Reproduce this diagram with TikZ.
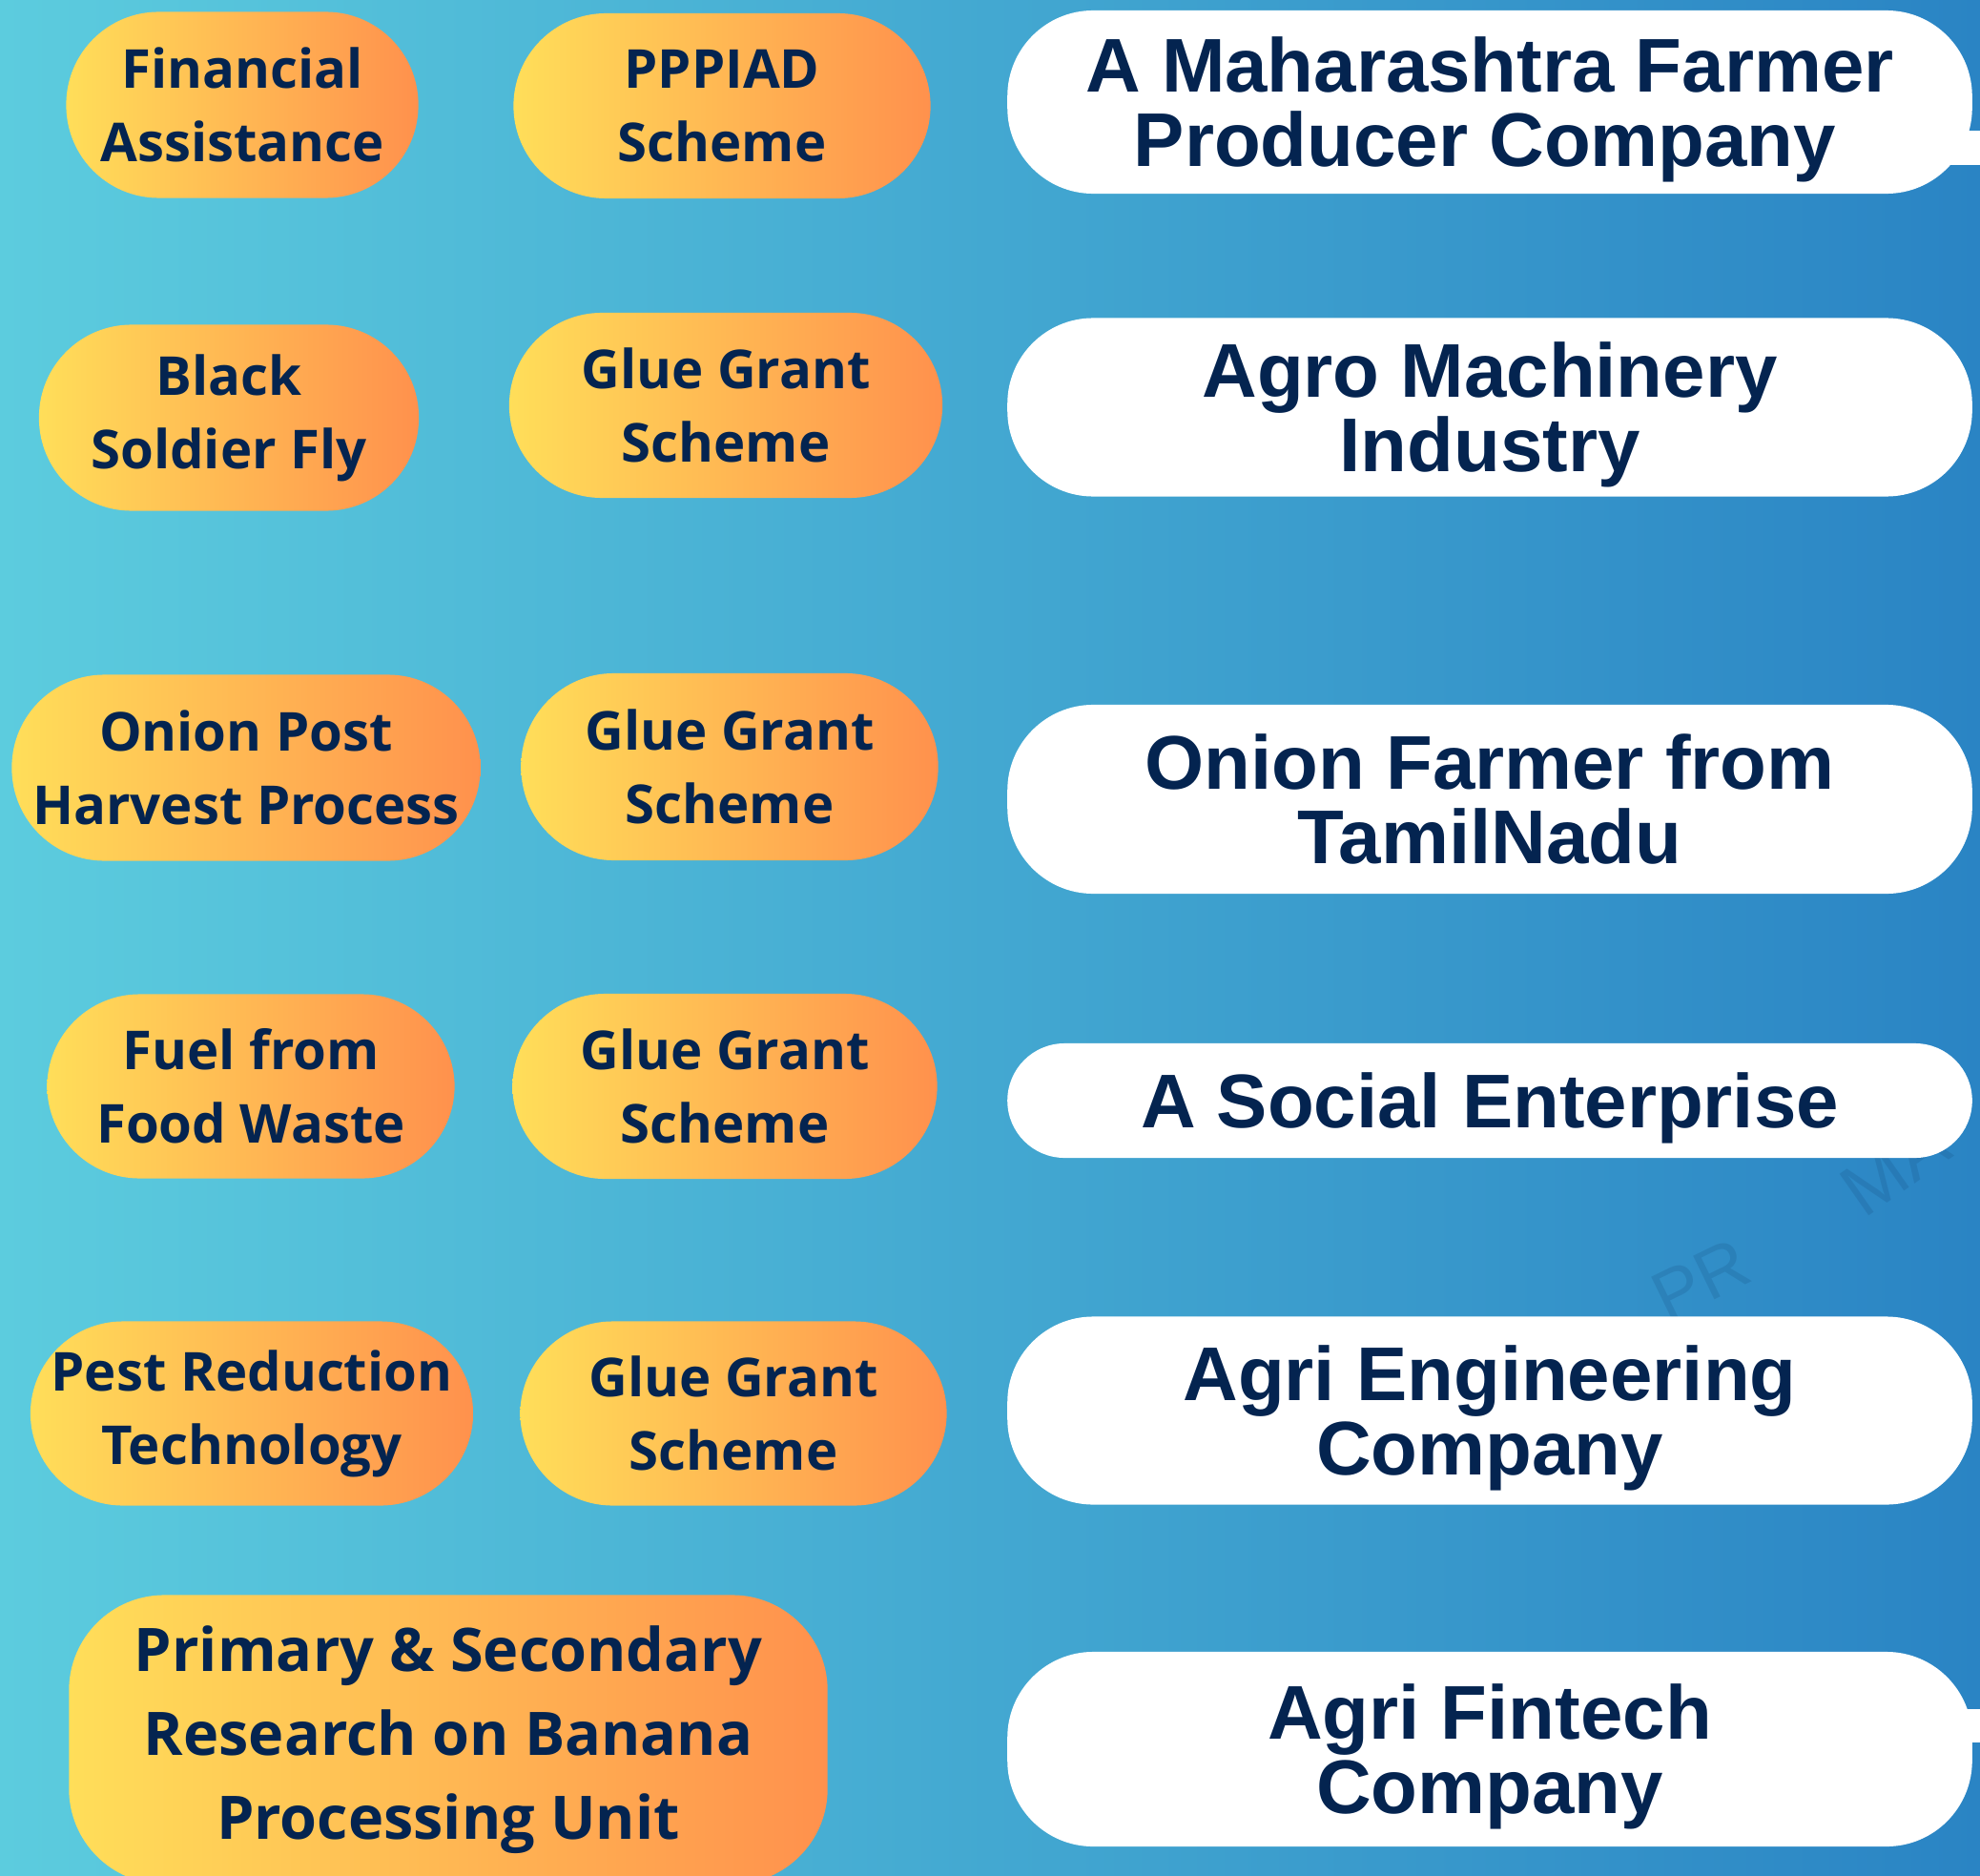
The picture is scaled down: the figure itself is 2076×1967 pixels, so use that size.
\documentclass[tikz,border=0pt]{standalone}
\usepackage{fontspec}
\setmainfont{Open Sans}
\newfontfamily\bubblefont{Liberation Sans}
\usetikzlibrary{positioning}
\definecolor{navy}{RGB}{4,36,80}
\definecolor{pillY}{RGB}{255,222,89}
\definecolor{pillO}{RGB}{255,145,77}
\definecolor{bgL}{RGB}{92,204,222}
\definecolor{bgM}{RGB}{70,174,213}
\definecolor{bgR}{RGB}{42,132,196}
\tikzset{%
	% Specifications for style of nodes:
	base/.style = {rectangle, inner sep=0pt, text=navy, align=center},
	pill/.style = {base, rounded corners=0.97cm, left color=pillY, right color=pillO, font=\bfseries\fontsize{16}{21.9}\selectfont},
	bubble/.style = {base, fill=white, rounded corners=0.9cm, minimum width=10.11cm, text depth=0pt, font=\bubblefont\bfseries\fontsize{22.7}{22.2}\selectfont},
	watermark/.style = {inner sep=0pt, text=navy, opacity=0.12, font=\bubblefont\fontsize{21}{21}\selectfont},
}

\begin{document}
\begin{tikzpicture}[x=0.01cm,y=-0.01cm]
		\useasboundingbox (0,0) rectangle (2076,1967);
		\clip (0,0) rectangle (2076,1967);
		\shade[left color=bgL, middle color=bgM, right color=bgR] (0,0) rectangle (2076,1967);
		
		\node (MarkPR) [watermark, rotate=26] at (1783,1342) {PR};
		\node (MarkMA) [watermark, rotate=35, font=\bubblefont\fontsize{22}{22}\selectfont] at (1987,1223) {MA};
		
		% left column
		\node (FinAid) [pill, minimum width=3.69cm, minimum height=1.95cm] at (254,110) {Financial\\Assistance};
		\node (Fly) [pill, minimum width=3.98cm, minimum height=1.95cm] at (240,438) {Black\\Soldier Fly};
		\node (Onion) [pill, minimum width=4.91cm, minimum height=1.95cm] at (258,805) {Onion Post\\Harvest Process};
		\node (Fuel) [pill, minimum width=4.27cm, minimum height=1.93cm] at (263,1139) {Fuel from\\Food Waste};
		\node (Pest) [pill, minimum width=4.64cm, minimum height=1.93cm] at (264,1482) {Pest Reduction\\Technology};
		\node (Banana) [pill, rounded corners=1cm, minimum width=7.95cm, minimum height=3.03cm, font=\bfseries\fontsize{17.9}{25}\selectfont] at (470,1824) {Primary \& Secondary\\Research on Banana\\Processing Unit};
		
		% scheme column
		\node (PPPIAD) [pill, minimum width=4.37cm, minimum height=1.94cm] at (757,111) {PPPIAD\\Scheme};
		\node (GlueA) [pill, minimum width=4.54cm, minimum height=1.94cm] at (761,425) {Glue Grant\\Scheme};
		\node (GlueB) [pill, minimum width=4.37cm, minimum height=1.96cm] at (765,804) {Glue Grant\\Scheme};
		\node (GlueC) [pill, minimum width=4.45cm, minimum height=1.94cm] at (760,1139) {Glue Grant\\Scheme};
		\node (GlueD) [pill, minimum width=4.47cm, minimum height=1.93cm] at (769,1482) {Glue Grant\\Scheme};
		
		% companies
		\fill[white] (2040,137) rectangle (2076,173);
		\fill[white] (2040,1792) rectangle (2076,1827);
		\node (FPC) [bubble, minimum height=1.92cm] at (1562,107) {A Maharashtra Farmer\\Producer Company\hspace*{0.1cm}};
		\node (Agro) [bubble, minimum height=1.87cm] at (1562,427) {Agro Machinery\\Industry};
		\node (OnionTN) [bubble, minimum height=1.98cm] at (1562,838) {Onion Farmer from\\TamilNadu};
		\node (Social) [bubble, rounded corners=0.6cm, minimum height=1.2cm] at (1562,1154) {A Social Enterprise};
		\node (AgriEng) [bubble, minimum height=1.97cm] at (1562,1479) {Agri Engineering\\Company};
		\node (Fintech) [bubble, minimum height=2.04cm] at (1562,1834) {Agri Fintech\\Company};
		
     \end{tikzpicture}
\end{document}
